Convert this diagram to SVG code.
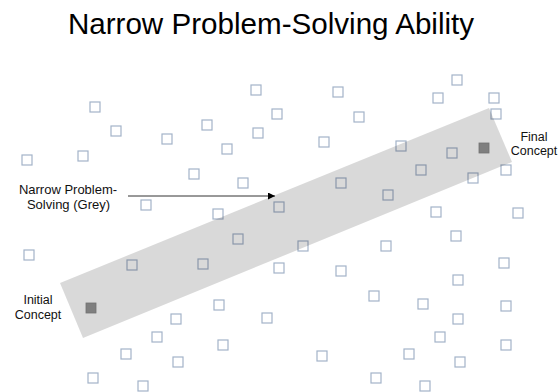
<svg xmlns="http://www.w3.org/2000/svg" width="560" height="392" viewBox="0 0 560 392">
<defs>
<style>
.sq{fill:none;stroke:#a3b3c9;stroke-width:1.2}
.fsq{fill:#7f7f7f;stroke:#727272;stroke-width:0.8}
.lbl{font-family:"Liberation Sans",Arial,sans-serif;font-size:12.5px;fill:#111;text-anchor:middle}
.title{font-family:"Liberation Sans",Arial,sans-serif;font-size:29.6px;fill:#000;text-anchor:middle}
</style>
<marker id="ah" viewBox="0 0 10 10" refX="10" refY="5" markerWidth="7" markerHeight="7" markerUnits="userSpaceOnUse" orient="auto">
<path d="M0,0 L10,5 L0,10 z" fill="#000"/>
</marker>
<rect id="s" class="sq" x="-5" y="-5" width="10" height="10"/>
</defs>
<rect width="560" height="392" fill="#fff"/>
<text class="title" x="271" y="33.5">Narrow Problem-Solving Ability</text>
<g id="scatter">
<use href="#s" x="95" y="107"/><use href="#s" x="116" y="131"/><use href="#s" x="167" y="139"/><use href="#s" x="27" y="160"/><use href="#s" x="83" y="156"/>
<use href="#s" x="207" y="125"/><use href="#s" x="256" y="90"/><use href="#s" x="277" y="114"/><use href="#s" x="258" y="133"/><use href="#s" x="227" y="149"/>
<use href="#s" x="194" y="174"/><use href="#s" x="243" y="183"/><use href="#s" x="146" y="205"/><use href="#s" x="218" y="214"/><use href="#s" x="279" y="207"/>
<use href="#s" x="338" y="92"/><use href="#s" x="457" y="80"/><use href="#s" x="438" y="98"/><use href="#s" x="494" y="98"/><use href="#s" x="496" y="114"/>
<use href="#s" x="359" y="117"/><use href="#s" x="324" y="142"/><use href="#s" x="401" y="146"/><use href="#s" x="452" y="153"/><use href="#s" x="421" y="170"/>
<use href="#s" x="506" y="170"/><use href="#s" x="473" y="178"/><use href="#s" x="341" y="183"/><use href="#s" x="388" y="195"/><use href="#s" x="436" y="212"/>
<use href="#s" x="518" y="213"/>
<use href="#s" x="29" y="255"/><use href="#s" x="132" y="265"/><use href="#s" x="203" y="264"/><use href="#s" x="238" y="239"/><use href="#s" x="279" y="268"/>
<use href="#s" x="176" y="319"/><use href="#s" x="219" y="305"/><use href="#s" x="267" y="318"/><use href="#s" x="157" y="337"/><use href="#s" x="223" y="345"/>
<use href="#s" x="126" y="354"/><use href="#s" x="178" y="362"/><use href="#s" x="93" y="378"/><use href="#s" x="143" y="386"/>
<use href="#s" x="303" y="246"/><use href="#s" x="386" y="246"/><use href="#s" x="456" y="236"/><use href="#s" x="341" y="271"/><use href="#s" x="504" y="263"/>
<use href="#s" x="458" y="280"/><use href="#s" x="374" y="296"/><use href="#s" x="423" y="304"/><use href="#s" x="506" y="306"/><use href="#s" x="458" y="319"/>
<use href="#s" x="440" y="337"/><use href="#s" x="506" y="345"/><use href="#s" x="322" y="356"/><use href="#s" x="409" y="354"/><use href="#s" x="460" y="362"/>
<use href="#s" x="376" y="378"/><use href="#s" x="425" y="386"/>
</g>
<g id="band">
<polygon points="60,283 489,108 512,162 83,338" fill="#000" fill-opacity="0.15"/>
</g>
<g id="initial">
<rect class="fsq" x="86" y="303" width="10" height="10"/>
<text class="lbl" x="38" y="304">Initial</text>
<text class="lbl" x="38" y="318.5">Concept</text>
</g>
<g id="final">
<rect class="fsq" x="479" y="143" width="10" height="10"/>
<text class="lbl" x="534" y="141">Final</text>
<text class="lbl" x="534" y="155">Concept</text>
</g>
<g id="label">
<text class="lbl" x="68" y="194" style="font-size:13px">Narrow Problem-</text>
<text class="lbl" x="68.5" y="209" style="font-size:13px">Solving (Grey)</text>
</g>
<g id="connectors">
<line x1="128" y1="196" x2="275" y2="196" stroke="#333" stroke-width="1" marker-end="url(#ah)"/>
</g>
</svg>
